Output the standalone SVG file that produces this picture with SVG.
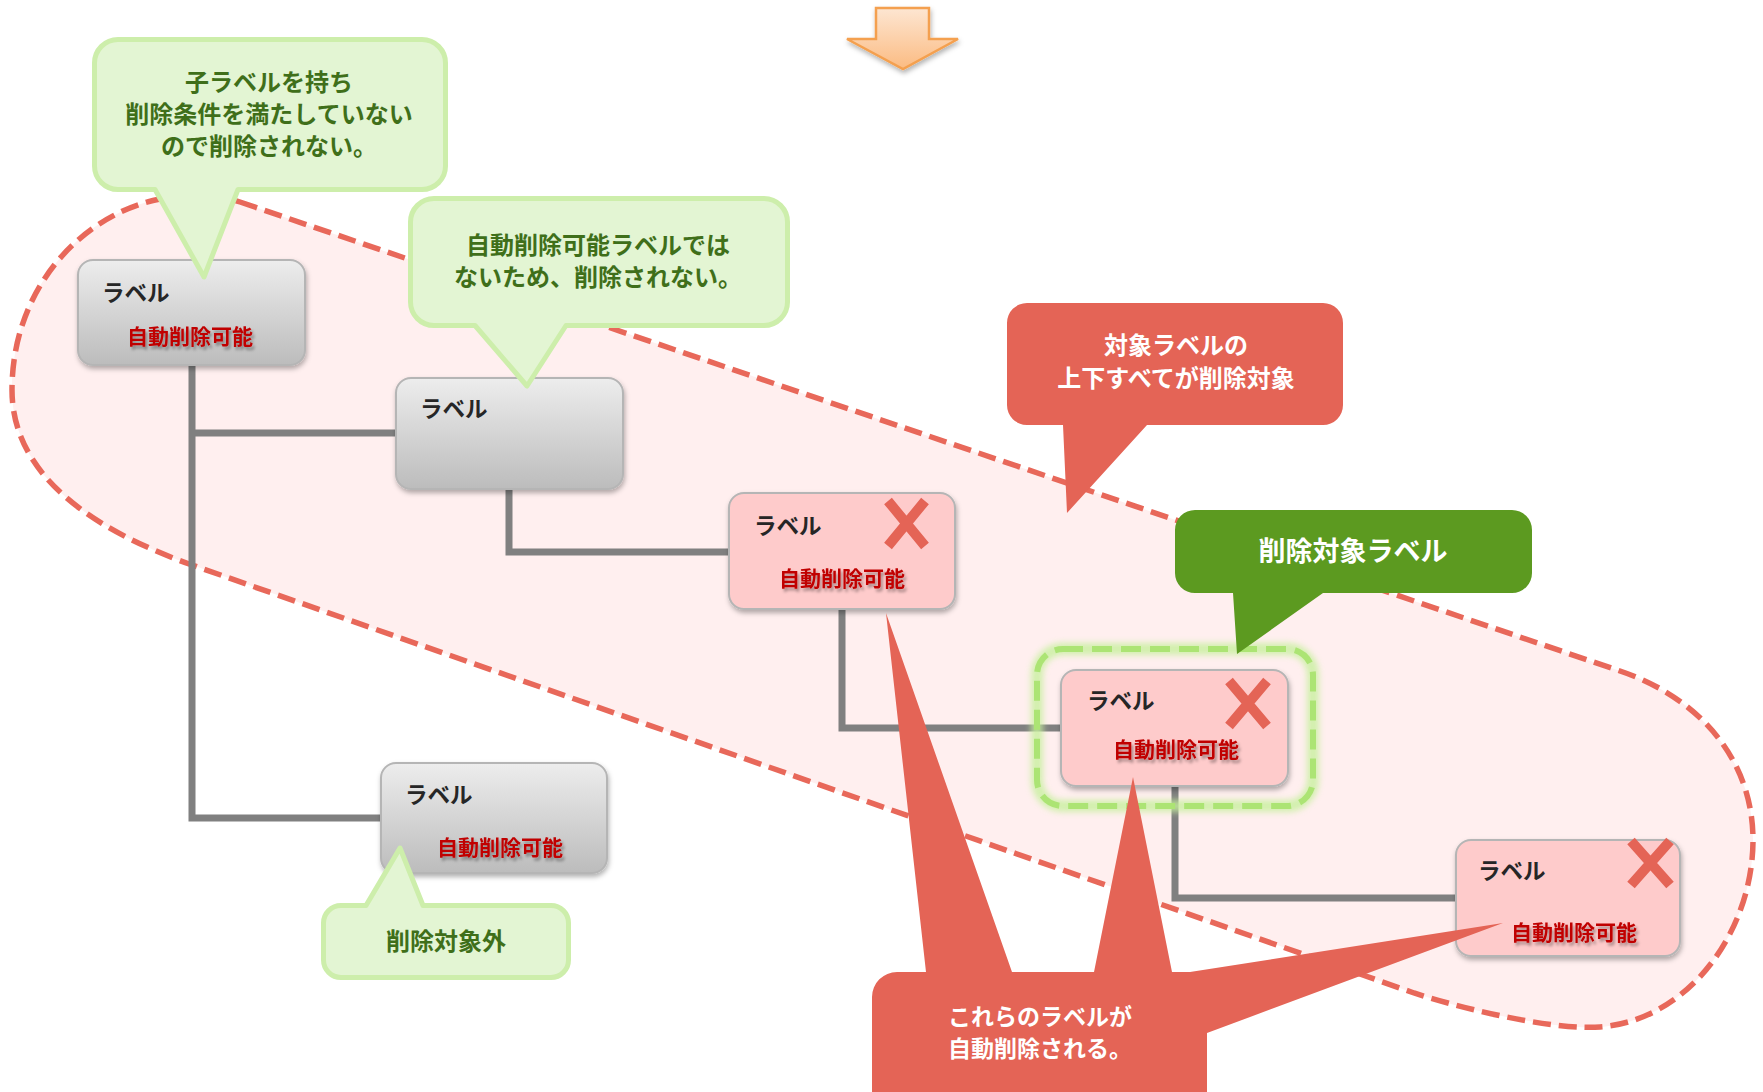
<svg xmlns="http://www.w3.org/2000/svg" width="1763" height="1092" viewBox="0 0 1763 1092">
<defs>
  <linearGradient id="gGrey" x1="0" y1="0" x2="0" y2="1">
    <stop offset="0" stop-color="#ededed"/>
    <stop offset="1" stop-color="#bcbcbc"/>
  </linearGradient>
  <linearGradient id="gOrange" x1="0" y1="0" x2="0" y2="1">
    <stop offset="0" stop-color="#fde6d2"/>
    <stop offset="1" stop-color="#fbbb82"/>
  </linearGradient>
  <filter id="shadow" x="-10%" y="-10%" width="125%" height="135%">
    <feDropShadow dx="1" dy="3" stdDeviation="2.5" flood-color="#000" flood-opacity="0.3"/>
  </filter>
  <filter id="tshadow" x="-10%" y="-30%" width="125%" height="170%">
    <feDropShadow dx="2" dy="3" stdDeviation="1.6" flood-color="#000" flood-opacity="0.35"/>
  </filter>
  <filter id="glow" x="-10%" y="-10%" width="120%" height="120%">
    <feGaussianBlur stdDeviation="3"/>
  </filter>
</defs>
<style>
  text{font-family:"Noto Sans CJK JP","Noto Sans",sans-serif;font-weight:700}
  .region{fill:#ffefef;stroke:#e8685a;stroke-width:5.5;stroke-dasharray:18 8}
  .conn{fill:none;stroke:#808080;stroke-width:7;stroke-linejoin:miter}
  .grey{fill:url(#gGrey);stroke:#b5b5b5;stroke-width:2}
  .pink{fill:#fecbcb;stroke:#b5b5b5;stroke-width:2}
  .lbl{font-size:22.5px;fill:#262626}
  .auto{font-size:21px;fill:#c00000;text-anchor:middle}
  .xmark{stroke:#e46456;stroke-width:10;fill:none}
  .c-light{fill:#e3f5d3;stroke:#cdeeab;stroke-width:5;stroke-linejoin:round}
  .t-light{fill:#3f6f1a;font-size:24px;text-anchor:middle}
  .c-red{fill:#e46456}
  .c-green{fill:#5c9a20}
  .t-white{fill:#ffffff;font-size:24px;text-anchor:middle}
</style>

<!-- target region -->
<path id="region" class="region" d="M 240 202 L 1620 671 C 1700 698, 1753 760, 1753 840 C 1753 930, 1690 1020, 1600 1027 C 1560 1030, 1480 1014, 1414 993 L 192 565 C 102 533, 12 480, 12 390 C 12 290, 80 215, 160 199 C 185 194, 210 192, 240 202 Z"/>

<!-- down arrow -->
<g id="arrow" filter="url(#shadow)">
  <path d="M 876 8 H 929 V 39 H 958 L 903 69 L 847 39 H 876 Z" fill="url(#gOrange)" stroke="#f4a04f" stroke-width="2.5" stroke-linejoin="miter"/>
</g>

<!-- connectors -->
<g id="connectors">
  <path class="conn" d="M 192 365 V 818 H 381"/>
  <path class="conn" d="M 192 433 H 396"/>
  <path class="conn" d="M 509 489 V 552 H 729"/>
  <path class="conn" d="M 842 609 V 728 H 1061"/>
  <path class="conn" d="M 1175 786 V 898 H 1456"/>
</g>

<!-- nodes -->
<g id="node1">
  <rect class="grey" x="78" y="260" width="227" height="105" rx="15" filter="url(#shadow)"/>
  <text class="lbl" x="102" y="301">ラベル</text>
  <text class="auto" x="190" y="344" filter="url(#tshadow)">自動削除可能</text>
</g>
<g id="node2">
  <rect class="grey" x="396" y="378" width="227" height="111" rx="15" filter="url(#shadow)"/>
  <text class="lbl" x="420" y="417">ラベル</text>
</g>
<g id="node3">
  <rect class="pink" x="729" y="493" width="226" height="116" rx="15" filter="url(#shadow)"/>
  <text class="lbl" x="754" y="534">ラベル</text>
  <text class="auto" x="842" y="586" filter="url(#tshadow)">自動削除可能</text>
  <path class="xmark" d="M 888 501 L 925 546 M 925 501 L 888 546"/>
</g>
<g id="node4">
  <rect class="pink" x="1061" y="670" width="227" height="116" rx="15" filter="url(#shadow)"/>
  <text class="lbl" x="1087" y="709">ラベル</text>
  <text class="auto" x="1176" y="757" filter="url(#tshadow)">自動削除可能</text>
  <path class="xmark" d="M 1229 681 L 1267 726 M 1267 681 L 1229 726"/>
</g>
<g id="node5">
  <rect class="grey" x="381" y="763" width="226" height="110" rx="15" filter="url(#shadow)"/>
  <text class="lbl" x="405" y="803">ラベル</text>
  <text class="auto" x="500" y="855" filter="url(#tshadow)">自動削除可能</text>
</g>
<g id="node6">
  <rect class="pink" x="1456" y="840" width="224" height="116" rx="15" filter="url(#shadow)"/>
  <text class="lbl" x="1478" y="879">ラベル</text>
  <text class="auto" x="1574" y="940" filter="url(#tshadow)">自動削除可能</text>
  <path class="xmark" d="M 1631 841 L 1670 885 M 1670 841 L 1631 885"/>
</g>

<!-- highlight of target label -->
<g id="highlight">
  <rect x="1037" y="649" width="276" height="157" rx="26" fill="none" stroke="#c6f09c" stroke-width="12" opacity="0.8" filter="url(#glow)"/>
  <rect x="1037" y="649" width="276" height="157" rx="26" fill="none" stroke="#ace474" stroke-width="6" stroke-dasharray="20 9"/>
</g>

<!-- callouts -->
<g id="callout1">
  <path class="c-light" d="M 118 39.5 H 422 A 23.5 23.5 0 0 1 445.5 63 V 166 A 23.5 23.5 0 0 1 422 189.5 H 238 L 204 277 L 155 189.5 H 118 A 23.5 23.5 0 0 1 94.5 166 V 63 A 23.5 23.5 0 0 1 118 39.5 Z"/>
  <text class="t-light" x="269" y="91">子ラベルを持ち</text>
  <text class="t-light" x="269" y="123">削除条件を満たしていない</text>
  <text class="t-light" x="269" y="155">ので削除されない。</text>
</g>
<g id="callout2">
  <path class="c-light" d="M 434 198.5 H 764 A 23.5 23.5 0 0 1 787.5 222 V 302 A 23.5 23.5 0 0 1 764 325.5 H 566 L 527 386 L 475 325.5 H 434 A 23.5 23.5 0 0 1 410.5 302 V 222 A 23.5 23.5 0 0 1 434 198.5 Z"/>
  <text class="t-light" x="598" y="254">自動削除可能ラベルでは</text>
  <text class="t-light" x="598" y="286">ないため、削除されない。</text>
</g>
<g id="callout3">
  <path class="c-light" d="M 341 905.5 H 366 L 400 848 L 423 905.5 H 551 A 17.5 17.5 0 0 1 568.5 923 V 960 A 17.5 17.5 0 0 1 551 977.5 H 341 A 17.5 17.5 0 0 1 323.5 960 V 923 A 17.5 17.5 0 0 1 341 905.5 Z"/>
  <text class="t-light" x="446" y="950">削除対象外</text>
</g>
<g id="callout4">
  <path class="c-red" d="M 1027 303 H 1323 A 20 20 0 0 1 1343 323 V 405 A 20 20 0 0 1 1323 425 H 1147 L 1067 513 L 1063 425 H 1027 A 20 20 0 0 1 1007 405 V 323 A 20 20 0 0 1 1027 303 Z"/>
  <text class="t-white" x="1176" y="354">対象ラベルの</text>
  <text class="t-white" x="1176" y="387">上下すべてが削除対象</text>
</g>
<g id="callout5">
  <path class="c-green" d="M 1195 510 H 1512 A 20 20 0 0 1 1532 530 V 573 A 20 20 0 0 1 1512 593 H 1323 L 1237 654 L 1233 593 H 1195 A 20 20 0 0 1 1175 573 V 530 A 20 20 0 0 1 1195 510 Z"/>
  <text class="t-white" x="1353" y="561" style="font-size:27px">削除対象ラベル</text>
</g>
<g id="callout6">
  <path class="c-red" d="M 872 997 A 25 25 0 0 1 897 972 H 926 L 886 613 L 1012 972 H 1094 L 1133 777 L 1172 972 H 1190 L 1503 923 L 1207 1033 V 1120 H 872 Z"/>
  <text class="t-white" x="1040" y="1025" style="font-size:23px">これらのラベルが</text>
  <text class="t-white" x="1040" y="1057" style="font-size:23px">自動削除される。</text>
</g>
</svg>
